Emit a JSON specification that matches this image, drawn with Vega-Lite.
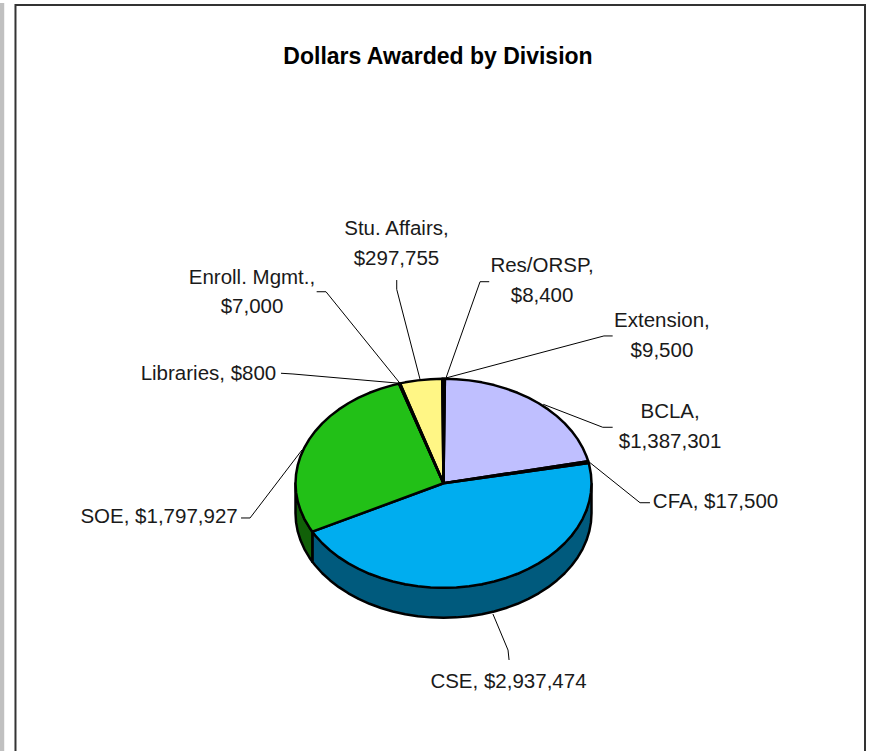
{"$schema":"https://vega.github.io/schema/vega-lite/v6.json","width":871,"height":751,"padding":0,"autosize":{"type":"none"},"background":"white","view":{"stroke":null},
"title":{"text":"Dollars Awarded by Division","anchor":"middle","frame":"group","dx":2.5,"dy":80,"offset":0,"baseline":"middle","font":"Liberation Sans","fontSize":23,"fontWeight":"bold","color":"#000000"},
"datasets":{
"band":[{"x":-299.66,"x2":-296.8,"y":459.6,"y2":-256.2}],
"frame":[{"i":1,"x":-289.2,"y":-256.2},{"i":2,"x":-289.2,"y":457.7},{"i":3,"x":284.8,"y":457.7},{"i":4,"x":284.8,"y":-256.2}],
"walls":[
{"division":"CSE","i":1,"x":100,"y":0},{"division":"CSE","i":2,"x":96.59,"y":-25.88},{"division":"CSE","i":3,"x":86.6,"y":-50},{"division":"CSE","i":4,"x":70.71,"y":-70.71},{"division":"CSE","i":5,"x":50,"y":-86.6},{"division":"CSE","i":6,"x":25.88,"y":-96.59},{"division":"CSE","i":7,"x":0,"y":-100},{"division":"CSE","i":8,"x":-25.88,"y":-96.59},{"division":"CSE","i":9,"x":-50,"y":-86.6},{"division":"CSE","i":10,"x":-70.71,"y":-70.71},{"division":"CSE","i":11,"x":-86.6,"y":-50},{"division":"CSE","i":12,"x":-88.62,"y":-46.33},
{"division":"CSE","i":13,"x":-88.62,"y":-75.03},{"division":"CSE","i":14,"x":-86.6,"y":-78.7},{"division":"CSE","i":15,"x":-81.92,"y":-86.06},{"division":"CSE","i":16,"x":-76.6,"y":-92.98},{"division":"CSE","i":17,"x":-70.71,"y":-99.41},{"division":"CSE","i":18,"x":-64.28,"y":-105.3},{"division":"CSE","i":19,"x":-57.36,"y":-110.62},{"division":"CSE","i":20,"x":-50,"y":-115.3},{"division":"CSE","i":21,"x":-42.26,"y":-119.33},{"division":"CSE","i":22,"x":-34.2,"y":-122.67},{"division":"CSE","i":23,"x":-25.88,"y":-125.29},{"division":"CSE","i":24,"x":-17.36,"y":-127.18},{"division":"CSE","i":25,"x":-8.72,"y":-128.32},{"division":"CSE","i":26,"x":0,"y":-128.7},{"division":"CSE","i":27,"x":8.72,"y":-128.32},{"division":"CSE","i":28,"x":17.36,"y":-127.18},{"division":"CSE","i":29,"x":25.88,"y":-125.29},{"division":"CSE","i":30,"x":34.2,"y":-122.67},{"division":"CSE","i":31,"x":42.26,"y":-119.33},{"division":"CSE","i":32,"x":50,"y":-115.3},{"division":"CSE","i":33,"x":57.36,"y":-110.62},{"division":"CSE","i":34,"x":64.28,"y":-105.3},{"division":"CSE","i":35,"x":70.71,"y":-99.41},{"division":"CSE","i":36,"x":76.6,"y":-92.98},{"division":"CSE","i":37,"x":81.92,"y":-86.06},{"division":"CSE","i":38,"x":86.6,"y":-78.7},{"division":"CSE","i":39,"x":90.63,"y":-70.96},{"division":"CSE","i":40,"x":93.97,"y":-62.9},{"division":"CSE","i":41,"x":96.59,"y":-54.58},{"division":"CSE","i":42,"x":98.48,"y":-46.06},{"division":"CSE","i":43,"x":99.62,"y":-37.42},{"division":"CSE","i":44,"x":100,"y":-28.7},{"division":"CSE","i":45,"x":100,"y":0},
{"division":"SOE","i":1,"x":-88.62,"y":-46.33},{"division":"SOE","i":2,"x":-93.97,"y":-34.2},{"division":"SOE","i":3,"x":-98.48,"y":-17.36},{"division":"SOE","i":4,"x":-100,"y":0},{"division":"SOE","i":5,"x":-100,"y":-28.7},{"division":"SOE","i":6,"x":-99.62,"y":-37.42},{"division":"SOE","i":7,"x":-98.48,"y":-46.06},{"division":"SOE","i":8,"x":-96.59,"y":-54.58},{"division":"SOE","i":9,"x":-93.97,"y":-62.9},{"division":"SOE","i":10,"x":-90.63,"y":-70.96},{"division":"SOE","i":11,"x":-88.62,"y":-75.03},{"division":"SOE","i":12,"x":-88.62,"y":-46.33}
],
"faces":[
{"division":"BCLA","i":1,"x":0,"y":0},{"division":"BCLA","i":2,"x":0.93,"y":100},{"division":"BCLA","i":3,"x":8.72,"y":99.62},{"division":"BCLA","i":4,"x":17.36,"y":98.48},{"division":"BCLA","i":5,"x":25.88,"y":96.59},{"division":"BCLA","i":6,"x":34.2,"y":93.97},{"division":"BCLA","i":7,"x":42.26,"y":90.63},{"division":"BCLA","i":8,"x":50,"y":86.6},{"division":"BCLA","i":9,"x":57.36,"y":81.92},{"division":"BCLA","i":10,"x":64.28,"y":76.6},{"division":"BCLA","i":11,"x":70.71,"y":70.71},{"division":"BCLA","i":12,"x":76.6,"y":64.28},{"division":"BCLA","i":13,"x":81.92,"y":57.36},{"division":"BCLA","i":14,"x":86.6,"y":50},{"division":"BCLA","i":15,"x":90.63,"y":42.26},{"division":"BCLA","i":16,"x":93.97,"y":34.2},{"division":"BCLA","i":17,"x":96.59,"y":25.88},{"division":"BCLA","i":18,"x":97.74,"y":21.13},{"division":"BCLA","i":19,"x":0,"y":0},
{"division":"CSE","i":1,"x":0,"y":0},{"division":"CSE","i":2,"x":98.09,"y":19.47},{"division":"CSE","i":3,"x":98.48,"y":17.36},{"division":"CSE","i":4,"x":99.62,"y":8.72},{"division":"CSE","i":5,"x":100,"y":0},{"division":"CSE","i":6,"x":99.62,"y":-8.72},{"division":"CSE","i":7,"x":98.48,"y":-17.36},{"division":"CSE","i":8,"x":96.59,"y":-25.88},{"division":"CSE","i":9,"x":93.97,"y":-34.2},{"division":"CSE","i":10,"x":90.63,"y":-42.26},{"division":"CSE","i":11,"x":86.6,"y":-50},{"division":"CSE","i":12,"x":81.92,"y":-57.36},{"division":"CSE","i":13,"x":76.6,"y":-64.28},{"division":"CSE","i":14,"x":70.71,"y":-70.71},{"division":"CSE","i":15,"x":64.28,"y":-76.6},{"division":"CSE","i":16,"x":57.36,"y":-81.92},{"division":"CSE","i":17,"x":50,"y":-86.6},{"division":"CSE","i":18,"x":42.26,"y":-90.63},{"division":"CSE","i":19,"x":34.2,"y":-93.97},{"division":"CSE","i":20,"x":25.88,"y":-96.59},{"division":"CSE","i":21,"x":17.36,"y":-98.48},{"division":"CSE","i":22,"x":8.72,"y":-99.62},{"division":"CSE","i":23,"x":0,"y":-100},{"division":"CSE","i":24,"x":-8.72,"y":-99.62},{"division":"CSE","i":25,"x":-17.36,"y":-98.48},{"division":"CSE","i":26,"x":-25.88,"y":-96.59},{"division":"CSE","i":27,"x":-34.2,"y":-93.97},{"division":"CSE","i":28,"x":-42.26,"y":-90.63},{"division":"CSE","i":29,"x":-50,"y":-86.6},{"division":"CSE","i":30,"x":-57.36,"y":-81.92},{"division":"CSE","i":31,"x":-64.28,"y":-76.6},{"division":"CSE","i":32,"x":-70.71,"y":-70.71},{"division":"CSE","i":33,"x":-76.6,"y":-64.28},{"division":"CSE","i":34,"x":-81.92,"y":-57.36},{"division":"CSE","i":35,"x":-86.6,"y":-50},{"division":"CSE","i":36,"x":-88.62,"y":-46.33},{"division":"CSE","i":37,"x":0,"y":0},
{"division":"SOE","i":1,"x":0,"y":0},{"division":"SOE","i":2,"x":-88.62,"y":-46.33},{"division":"SOE","i":3,"x":-90.63,"y":-42.26},{"division":"SOE","i":4,"x":-93.97,"y":-34.2},{"division":"SOE","i":5,"x":-96.59,"y":-25.88},{"division":"SOE","i":6,"x":-98.48,"y":-17.36},{"division":"SOE","i":7,"x":-99.62,"y":-8.72},{"division":"SOE","i":8,"x":-100,"y":0},{"division":"SOE","i":9,"x":-99.62,"y":8.72},{"division":"SOE","i":10,"x":-98.48,"y":17.36},{"division":"SOE","i":11,"x":-96.59,"y":25.88},{"division":"SOE","i":12,"x":-93.97,"y":34.2},{"division":"SOE","i":13,"x":-90.63,"y":42.26},{"division":"SOE","i":14,"x":-86.6,"y":50},{"division":"SOE","i":15,"x":-81.92,"y":57.36},{"division":"SOE","i":16,"x":-76.6,"y":64.28},{"division":"SOE","i":17,"x":-70.71,"y":70.71},{"division":"SOE","i":18,"x":-64.28,"y":76.6},{"division":"SOE","i":19,"x":-57.36,"y":81.92},{"division":"SOE","i":20,"x":-50,"y":86.6},{"division":"SOE","i":21,"x":-42.26,"y":90.63},{"division":"SOE","i":22,"x":-34.2,"y":93.97},{"division":"SOE","i":23,"x":-30.07,"y":95.37},{"division":"SOE","i":24,"x":0,"y":0},
{"division":"Stu. Affairs","i":1,"x":0,"y":0},{"division":"Stu. Affairs","i":2,"x":-29.34,"y":95.6},{"division":"Stu. Affairs","i":3,"x":-25.88,"y":96.59},{"division":"Stu. Affairs","i":4,"x":-17.36,"y":98.48},{"division":"Stu. Affairs","i":5,"x":-8.72,"y":99.62},{"division":"Stu. Affairs","i":6,"x":-0.82,"y":100},{"division":"Stu. Affairs","i":7,"x":0,"y":0},
{"division":"CFA","i":1,"x":0,"y":0},{"division":"CFA","i":2,"x":97.74,"y":21.13},{"division":"CFA","i":3,"x":98.09,"y":19.47},{"division":"CFA","i":4,"x":0,"y":0},
{"division":"Libraries","i":1,"x":0,"y":0},{"division":"Libraries","i":2,"x":-30.07,"y":95.37},{"division":"Libraries","i":3,"x":-29.99,"y":95.4},{"division":"Libraries","i":4,"x":0,"y":0},
{"division":"Enroll. Mgmt.","i":1,"x":0,"y":0},{"division":"Enroll. Mgmt.","i":2,"x":-29.99,"y":95.4},{"division":"Enroll. Mgmt.","i":3,"x":-29.34,"y":95.6},{"division":"Enroll. Mgmt.","i":4,"x":0,"y":0},
{"division":"Res/ORSP","i":1,"x":0,"y":0},{"division":"Res/ORSP","i":2,"x":-0.82,"y":100},{"division":"Res/ORSP","i":3,"x":0,"y":100},{"division":"Res/ORSP","i":4,"x":0,"y":0},
{"division":"Extension","i":1,"x":0,"y":0},{"division":"Extension","i":2,"x":0,"y":100},{"division":"Extension","i":3,"x":0.93,"y":100},{"division":"Extension","i":4,"x":0,"y":0}
],
"leaders":[
{"division":"Libraries","i":1,"x":-109.8,"y":105.3},{"division":"Libraries","i":2,"x":-101.7,"y":104.6},{"division":"Libraries","i":3,"x":-29.4,"y":95.7},
{"division":"Enroll. Mgmt.","i":1,"x":-85.7,"y":183.3},{"division":"Enroll. Mgmt.","i":2,"x":-79.4,"y":183.3},{"division":"Enroll. Mgmt.","i":3,"x":-29.4,"y":95.7},
{"division":"Stu. Affairs","i":1,"x":-31.6,"y":194.5},{"division":"Stu. Affairs","i":2,"x":-31.6,"y":185.6},{"division":"Stu. Affairs","i":3,"x":-15.9,"y":99.8},
{"division":"Res/ORSP","i":1,"x":30.9,"y":192.9},{"division":"Res/ORSP","i":2,"x":24.7,"y":192.9},{"division":"Res/ORSP","i":3,"x":1.7,"y":100.8},
{"division":"Extension","i":1,"x":114.3,"y":141},{"division":"Extension","i":2,"x":108.4,"y":141},{"division":"Extension","i":3,"x":1.7,"y":100.8},
{"division":"BCLA","i":1,"x":114.3,"y":53.6},{"division":"BCLA","i":2,"x":107.6,"y":53.6},{"division":"BCLA","i":3,"x":67.4,"y":75.6},
{"division":"CFA","i":1,"x":139.5,"y":-18.6},{"division":"CFA","i":2,"x":132.8,"y":-18.6},{"division":"CFA","i":3,"x":99,"y":19.7},
{"division":"CSE","i":1,"x":44.3,"y":-169.1},{"division":"CSE","i":2,"x":43.6,"y":-159.6},{"division":"CSE","i":3,"x":33.4,"y":-125.1},
{"division":"SOE","i":1,"x":-136.8,"y":-33.2},{"division":"SOE","i":2,"x":-130.7,"y":-33.2},{"division":"SOE","i":3,"x":-95.6,"y":31.9}
],
"labels":[
{"division":"Stu. Affairs","amount":297755,"label":"Stu. Affairs,\n$297,755","x":-31.8,"y":242.9},
{"division":"Enroll. Mgmt.","amount":7000,"label":"Enroll. Mgmt.,\n$7,000","x":-129.4,"y":196.9},
{"division":"Res/ORSP","amount":8400,"label":"Res/ORSP,\n$8,400","x":66.6,"y":207.9},
{"division":"Extension","amount":9500,"label":"Extension,\n$9,500","x":147.6,"y":155.3},
{"division":"BCLA","amount":1387301,"label":"BCLA,\n$1,387,301","x":153.1,"y":67.8},
{"division":"Libraries","amount":800,"label":"Libraries, $800","x":-158.8,"y":104.6},
{"division":"CFA","amount":17500,"label":"CFA, $17,500","x":183.8,"y":-17.9},
{"division":"SOE","amount":1797927,"label":"SOE, $1,797,927","x":-192.2,"y":-32.3},
{"division":"CSE","amount":2937474,"label":"CSE, $2,937,474","x":43.9,"y":-190.2}
]},
"encoding":{
"x":{"field":"x","type":"quantitative","scale":{"domain":[-299.66,288.85],"nice":false,"zero":false},"axis":null},
"y":{"field":"y","type":"quantitative","scale":{"domain":[-256.2,462.5],"nice":false,"zero":false},"axis":null}},
"layer":[
{"data":{"name":"band"},"mark":{"type":"rect","color":"#c0c0c0"},"encoding":{"x2":{"field":"x2"},"y2":{"field":"y2"}}},
{"data":{"name":"frame"},"mark":{"type":"line","stroke":"#333333","strokeWidth":2},"encoding":{"order":{"field":"i","type":"quantitative"}}},
{"data":{"name":"leaders"},"mark":{"type":"line","stroke":"#000000","strokeWidth":1},"encoding":{"detail":{"field":"division"},"order":{"field":"i","type":"quantitative"}}},
{"data":{"name":"walls"},"mark":{"type":"line","stroke":"#000000","strokeWidth":2.5,"strokeJoin":"round"},"encoding":{"fill":{"field":"division","type":"nominal","scale":{"domain":["CSE","SOE"],"range":["#005a7d","#116008"]},"legend":null},"order":{"field":"i","type":"quantitative"}}},
{"data":{"name":"faces"},"mark":{"type":"line","stroke":"#000000","strokeWidth":2.5,"strokeJoin":"round"},"encoding":{"fill":{"field":"division","type":"nominal","scale":{"domain":["BCLA","CSE","SOE","Stu. Affairs","CFA","Libraries","Enroll. Mgmt.","Res/ORSP","Extension"],"range":["#bfbfff","#00adef","#22c017","#fff685","#000000","#000000","#000000","#000000","#000000"]},"legend":null},"order":{"field":"i","type":"quantitative"}}},
{"data":{"name":"labels"},"mark":{"type":"text","font":"Liberation Sans","fontSize":20.5,"color":"#1a1a1a","align":"center","baseline":"middle","lineBreak":"\n","lineHeight":29.5},"encoding":{"text":{"field":"label"}}}
],
"resolve":{"scale":{"fill":"independent"}},
"config":{"style":{"cell":{"stroke":null}}}}
